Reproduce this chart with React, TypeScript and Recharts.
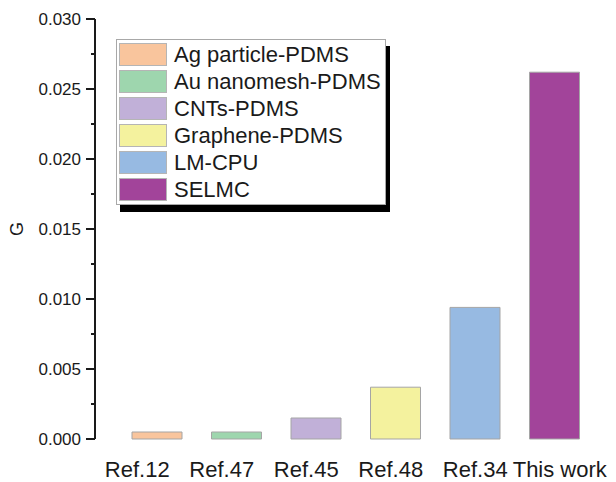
import React from 'react';
import { BarChart, Bar, Cell, XAxis, YAxis, Legend } from 'recharts';

const categories = ['Ref.12', 'Ref.47', 'Ref.45', 'Ref.48', 'Ref.34', 'This work'];
const materials = ['Ag particle-PDMS', 'Au nanomesh-PDMS', 'CNTs-PDMS', 'Graphene-PDMS', 'LM-CPU', 'SELMC'];
const gValues = [0.0005, 0.0005, 0.0015, 0.0037, 0.0094, 0.0262];
const colors = ['#F9C59D', '#9ED6AE', '#C1B0D8', '#F4F29E', '#97BAE2', '#A2449A'];
const yTicks = [0, 0.0025, 0.005, 0.0075, 0.01, 0.0125, 0.015, 0.0175, 0.02, 0.0225, 0.025, 0.0275, 0.03];
// tick marks along the bottom axis (Origin places them on its own grid, not under the bars)
const xTickMarks = [0.5, 1, 1.5, 2, 2.5, 3, 3.5, 4, 4.5, 5, 5.5, 6, 6.5];

const data = categories.map((category, i) => ({ category, material: materials[i], g: gValues[i] }));

const ink = '#1a1a1a';
const font = '"Liberation Sans", Arial, sans-serif';

const YTick = (props: any) => {
  const { x, y, payload } = props;
  const axisX = x + 14;
  const major = Math.round(payload.value / 0.0025) % 2 === 0;
  return (
    <g>
      <line x1={axisX - (major ? 9 : 4)} x2={axisX} y1={y} y2={y} stroke={ink} strokeWidth={2} />
      {major && (
        <text x={x} y={y} dy={6} textAnchor="end" fontSize={17} fill={ink} fontFamily={font}>
          {payload.value.toFixed(3)}
        </text>
      )}
    </g>
  );
};

const XTickMark = (props: any) => {
  const { x, y, payload } = props;
  const major = Number.isInteger(payload.value);
  return <line x1={x} x2={x} y1={y} y2={y + (major ? 7 : 4)} stroke={ink} strokeWidth={2} />;
};

const YLabel = (props: any) => {
  const { x, y, height } = props.viewBox;
  const cx = x + 17;
  const cy = y + height / 2;
  return (
    <text x={cx} y={cy} dy={6} textAnchor="middle" fontSize={18} fill={ink} fontFamily={font} transform={`rotate(-90, ${cx}, ${cy})`}>
      G
    </text>
  );
};

const LegendBox = () => (
  <div
    style={{
      background: '#fff',
      border: '1px solid #a8a8a8',
      boxShadow: '4px 7px 0 0 #000',
      padding: '1px 4px 1px 2px',
      fontFamily: font,
    }}
  >
    {materials.map((m, i) => (
      <div key={m} style={{ display: 'flex', alignItems: 'center', height: 27 }}>
        <span
          style={{
            display: 'inline-block',
            width: 48,
            height: 23,
            boxSizing: 'border-box',
            background: colors[i],
            border: '1px solid #b5b5b5',
            marginRight: 7,
          }}
        />
        <span style={{ fontSize: 22, color: ink, lineHeight: '27px', whiteSpace: 'nowrap' }}>{m}</span>
      </div>
    ))}
  </div>
);

export default function App() {
  return (
    <div style={{ position: 'absolute', left: 0, top: 0, width: 616, height: 482, background: '#fff', fontFamily: font }}>
      <BarChart width={616} height={482} data={data} margin={{ top: 19, right: 0, bottom: 0, left: 0 }}>
        <XAxis
          xAxisId="ticks"
          type="number"
          domain={[0, 6.97]}
          allowDataOverflow
          ticks={xTickMarks}
          interval={0}
          tick={<XTickMark />}
          tickLine={false}
          tickSize={0}
          tickMargin={0}
          axisLine={false}
          height={0}
        />
        <XAxis
          xAxisId="cat"
          dataKey="category"
          padding={{ left: 22, right: 22 }}
          tick={false}
          tickLine={false}
          axisLine={{ stroke: ink, strokeWidth: 2 }}
          height={0}
        />
        {/* category labels sit on their own, slightly wider grid in the original */}
        <XAxis
          xAxisId="labels"
          dataKey="category"
          padding={{ left: 0, right: 14 }}
          interval={0}
          tickLine={false}
          tickSize={0}
          tickMargin={22}
          tick={{ fontSize: 22, fill: ink, fontFamily: font }}
          axisLine={false}
          height={43}
        />
        <XAxis
          xAxisId="top"
          orientation="top"
          dataKey="category"
          tick={false}
          tickLine={false}
          height={0}
          axisLine={{ stroke: ink, strokeWidth: 2 }}
        />
        <YAxis
          domain={[0, 0.03]}
          ticks={yTicks}
          interval={0}
          width={95}
          tickLine={false}
          tickSize={9}
          tickMargin={5}
          tick={<YTick />}
          axisLine={{ stroke: ink, strokeWidth: 2 }}
          label={<YLabel />}
        />
        <Legend
          layout="vertical"
          align="center"
          verticalAlign="middle"
          content={<LegendBox />}
          wrapperStyle={{ left: 116, top: 39, width: 'auto', height: 'auto' }}
        />
        <Bar dataKey="g" xAxisId="cat" barSize={50} stroke="#a5a5a5" strokeWidth={1} isAnimationActive={false}>
          {data.map((d, i) => (
            <Cell key={d.category} fill={colors[i]} />
          ))}
        </Bar>
      </BarChart>
    </div>
  );
}
